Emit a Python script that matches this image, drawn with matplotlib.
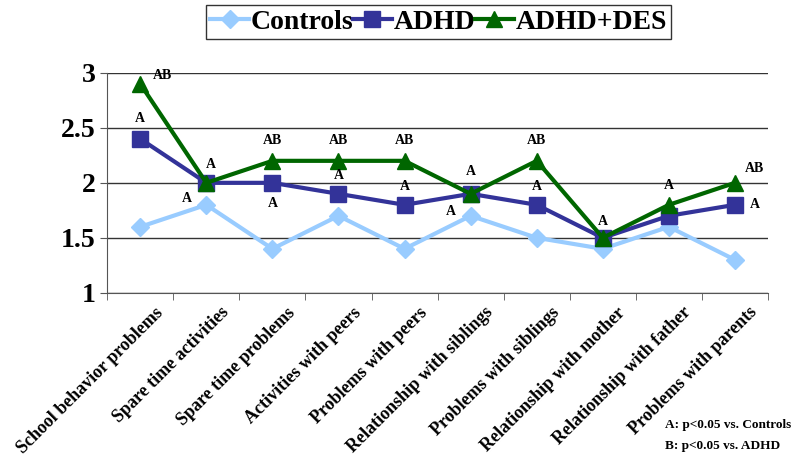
import matplotlib.pyplot as plt
from matplotlib.transforms import ScaledTranslation

# datos
categorias = ["School behavior problems", "Spare time activities", "Spare time problems",
              "Activities with peers", "Problems with peers", "Relationship with siblings",
              "Problems with siblings", "Relationship with mother", "Relationship with father",
              "Problems with parents"]
controles = [1.6, 1.8, 1.4, 1.7, 1.4, 1.7, 1.5, 1.4, 1.6, 1.3]
adhd = [2.4, 2.0, 2.0, 1.9, 1.8, 1.9, 1.8, 1.5, 1.7, 1.8]
adhd_des = [2.9, 2.0, 2.2, 2.2, 2.2, 1.9, 2.2, 1.5, 1.8, 2.0]

# etiquetas de significancia (texto de la serie verde y de la azul)
sig_des = ["AB", "A", "AB", "AB", "AB", "A", "AB", "A", "A", "AB"]
sig_adhd = ["A", "A", "A", "A", "A", "A", "A", "", "", "A"]

plt.rcParams['font.family'] = ['Liberation Serif', 'DejaVu Serif']
plt.rcParams['font.weight'] = 'bold'

fig = plt.figure(figsize=(8, 4.7), dpi=100)
ax = fig.add_axes([0.134, 0.377, 0.826, 0.468])

x = list(range(len(categorias)))
l1, = ax.plot(x, controles, color='#99CCFF', lw=3, marker='D', ms=9, label='Controls')
l2, = ax.plot(x, adhd, color='#333399', lw=3, marker='s', ms=11, label='ADHD')
l3, = ax.plot(x, adhd_des, color='#006600', lw=3, marker='^', ms=12, label='ADHD+DES')

# desplazamientos (puntos) de cada etiqueta
off_des = [(16, 6), (3, 13), (0, 15), (0, 15), (0, 15), (0, 16), (0, 15), (0, 12), (0, 14), (14, 10)]
off_adhd = [(0, 15), (-14, -11), (0, -15), (0, 13), (0, 13), (-14, -13), (0, 13), (0, 0), (0, 0), (14, 0)]
for i in x:
    ax.annotate(sig_des[i], (i, adhd_des[i]), xytext=off_des[i], textcoords='offset points',
                ha='center', va='center', fontsize=10, fontweight='bold')
    if sig_adhd[i]:
        ax.annotate(sig_adhd[i], (i, adhd[i]), xytext=off_adhd[i], textcoords='offset points',
                    ha='center', va='center', fontsize=10, fontweight='bold')

ax.set_ylim(1, 3)
ax.set_xlim(-0.5, len(categorias) - 0.5)
ax.set_yticks([1, 1.5, 2, 2.5, 3])
ax.set_yticklabels(['1', '1.5', '2', '2.5', '3'], fontsize=20, fontweight='bold')
ax.yaxis.grid(True, color='#333333', lw=1)
ax.set_axisbelow(True)

ax.set_xticks(x)
ax.set_xticklabels(categorias, rotation=45, ha='right', rotation_mode='anchor',
                   fontsize=13, fontweight='bold')
ax.tick_params(axis='x', length=0, pad=8)
desplazar = ScaledTranslation(10 / 72, 0, fig.dpi_scale_trans)
for t in ax.get_xticklabels():
    t.set_transform(t.get_transform() + desplazar)
ax.set_xticks([i + 0.5 for i in range(-1, len(categorias))], minor=True)
ax.tick_params(axis='x', which='minor', length=5, color='#555555')
ax.tick_params(axis='y', length=5, color='#555555')

for s in ['top', 'right']:
    ax.spines[s].set_visible(False)
ax.spines['left'].set_color('#555555')
ax.spines['bottom'].set_color('#555555')

leg = fig.legend(handles=[l1, l2, l3], loc='center', bbox_to_anchor=(0.548, 0.953), ncol=3,
                 frameon=True, fancybox=False, edgecolor='black',
                 handlelength=1.4, handletextpad=0.05, columnspacing=0.0, borderpad=0.15,
                 prop={'weight': 'bold', 'size': 20})
leg.get_frame().set_linewidth(1)

fig.text(0.831, 0.09, "A: p<0.05 vs. Controls", fontsize=9.5, fontweight='bold')
fig.text(0.831, 0.045, "B: p<0.05 vs. ADHD", fontsize=9.5, fontweight='bold')

plt.savefig("out.png", dpi=100)
